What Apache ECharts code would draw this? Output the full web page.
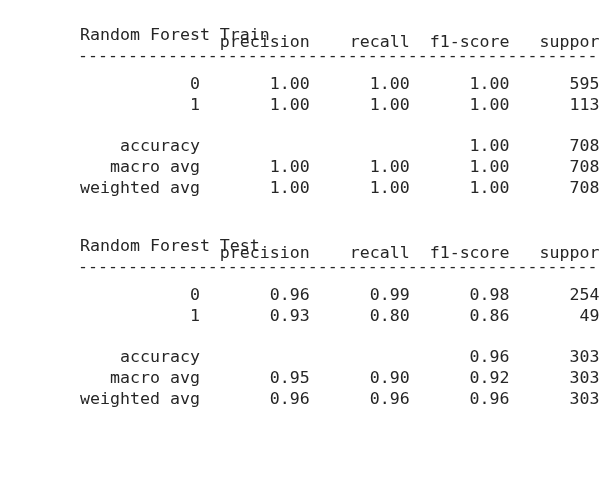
<!DOCTYPE html>
<html>
<head>
<meta charset="utf-8">
<script src="https://cdn.jsdelivr.net/npm/echarts@6/dist/echarts.min.js"></script>
<style>html,body{margin:0;padding:0;background:#fff;}#c{width:600px;height:500px;}</style>
</head>
<body>
<div id="c"></div>
<script>
// ---- data ----
var headers = ['precision', 'recall', 'f1-score', 'support'];
var classLabels = ['0', '1'];
var titles = ['Random Forest Train', 'Random Forest Test'];

var trainPrecision = [1.00, 1.00];
var trainRecall = [1.00, 1.00];
var trainF1 = [1.00, 1.00];
var trainSupport = [595, 113];
var trainAccuracy = 1.00;
var trainMacro = [1.00, 1.00, 1.00];
var trainWeighted = [1.00, 1.00, 1.00];
var trainTotal = 708;

var testPrecision = [0.96, 0.93];
var testRecall = [0.99, 0.80];
var testF1 = [0.98, 0.86];
var testSupport = [254, 49];
var testAccuracy = 0.96;
var testMacro = [0.95, 0.90, 0.92];
var testWeighted = [0.96, 0.96, 0.96];
var testTotal = 303;

// ---- formatting (classification_report style) ----
function padL(s, w) { s = String(s); while (s.length < w) s = ' ' + s; return s; }
function f2(v) { return v.toFixed(2); }
function row(label, a, b, c, d) {
  return padL(label, 12) + ' ' + ' ' + padL(a, 9) + ' ' + padL(b, 9) + ' ' + padL(c, 9) + ' ' + padL(d, 8);
}
function report(prec, rec, f1, sup, acc, macro, weighted, total) {
  var lines = [];
  var h = padL('', 12) + ' ';
  headers.forEach(function (x) { h += ' ' + padL(x, 9); });
  lines.push(h);
  lines.push('');
  classLabels.forEach(function (c, i) {
    lines.push(row(c, f2(prec[i]), f2(rec[i]), f2(f1[i]), sup[i]));
  });
  lines.push('');
  lines.push(row('accuracy', '', '', f2(acc), total));
  lines.push(row('macro avg', f2(macro[0]), f2(macro[1]), f2(macro[2]), total));
  lines.push(row('weighted avg', f2(weighted[0]), f2(weighted[1]), f2(weighted[2]), total));
  return lines;
}

var blocks = [
  report(trainPrecision, trainRecall, trainF1, trainSupport, trainAccuracy, trainMacro, trainWeighted, trainTotal),
  report(testPrecision, testRecall, testF1, testSupport, testAccuracy, testMacro, testWeighted, testTotal)
];

var FONT = '"DejaVu Sans Mono", monospace';
var FS = 16.6, LH = 20.75, X0 = 80, COLOR = '#262626';
var dashes = new Array(60).join('-');
var elements = [];
function addText(str, x, y) {
  elements.push({
    type: 'text', x: x, y: y, silent: true,
    style: { text: str, font: FS + 'px ' + FONT, fill: COLOR, verticalAlign: 'middle', align: 'left' }
  });
}
var blockTop = [36, 247];
blocks.forEach(function (lines, b) {
  var t = blockTop[b];
  addText(titles[b], X0, t);
  lines.forEach(function (ln, i) { if (ln) addText(ln, X0, t + 7 + i * LH); });
  addText(dashes, X0 - 2, t + 20.5);
});

var chart = echarts.init(document.getElementById('c'), null, { renderer: 'canvas' });
chart.setOption({ animation: false, backgroundColor: '#fff', graphic: { elements: elements } });
</script>
</body>
</html>
